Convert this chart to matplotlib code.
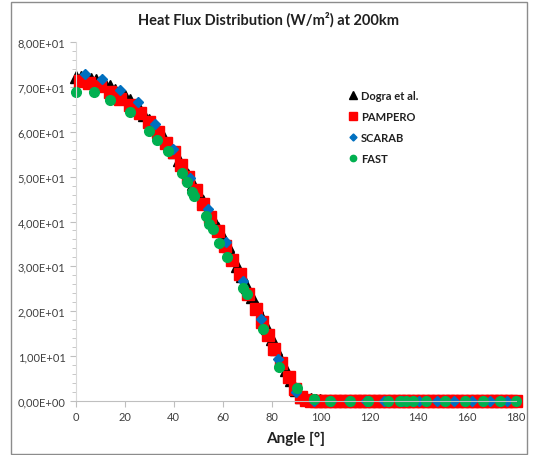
import matplotlib
matplotlib.use("Agg")
import matplotlib.pyplot as plt
from matplotlib.ticker import FuncFormatter, MultipleLocator
from matplotlib.patches import Rectangle

plt.rcParams['font.family'] = ['Lato', 'DejaVu Sans']

# Dogra et al. (black triangles)
dogra_angle = [0, 2, 4, 6, 8, 10, 12, 14, 16, 18, 20, 22, 24, 26, 28, 30,
               32, 34, 36, 38, 40, 42, 44, 46, 48, 50, 52, 54, 56, 58, 60,
               62, 64, 66, 68, 70, 72, 74, 76, 78, 80, 82, 84, 86, 88, 90,
               92, 94, 96, 98, 100]
dogra_flux = [72.2, 72.2, 72.0, 71.8, 71.5, 71.1, 70.6, 70.1, 69.4, 68.7,
              67.9, 67.0, 66.0, 64.9, 63.8, 62.6, 61.3, 59.9, 58.5, 57.0,
              55.4, 53.8, 52.0, 50.3, 48.4, 46.6, 44.6, 42.6, 40.6, 38.5,
              36.6, 34.5, 32.3, 30.1, 27.8, 25.5, 23.2, 20.9, 18.6, 16.2,
              13.9, 11.5, 9.2, 6.9, 4.6, 2.5, 1.0, 0.6, 0.4, 0.3, 0.2]

# PAMPERO (red squares)
pampero_angle = [1.5, 5.5, 10, 14, 18, 22, 26, 30, 33.5, 37, 40, 43, 46, 49,
                 52, 55, 58, 61, 64, 67, 70.5, 73.5, 76, 78.5, 81, 84, 87,
                 89.5, 92, 94, 96, 98, 100, 102, 104, 106, 108, 110, 112,
                 114, 116, 118, 120, 122, 124, 126, 128, 130, 132, 134, 136,
                 138, 140, 142, 144, 146, 148, 150, 152, 154, 156, 158, 160,
                 162, 164, 166, 168, 170, 172, 174, 176, 178, 180]
pampero_flux = [71.2, 70.9, 70.1, 68.8, 67.4, 66.0, 64.2, 62.1, 60.0, 57.5,
                55.4, 52.7, 49.9, 47.0, 43.9, 40.9, 37.8, 34.6, 31.4, 28.2,
                23.8, 20.5, 17.6, 14.7, 11.6, 8.4, 5.3, 2.7, 0.9, 0.3,
                0, 0, 0, 0, 0, 0, 0, 0, 0, 0, 0, 0, 0, 0, 0, 0, 0, 0, 0, 0,
                0, 0, 0, 0, 0, 0, 0, 0, 0, 0, 0, 0, 0, 0, 0, 0, 0, 0, 0, 0,
                0, 0, 0]

# SCARAB (blue diamonds)
scarab_angle = [3.6, 10.8, 18, 25.2, 32.4, 39.6, 46.8, 54, 61.2, 68.4, 75.6,
                82.8, 90, 97.2, 104.4, 111.6, 118.8, 126, 133.2, 140.4,
                147.6, 154.8, 162, 169.2, 176.4]
scarab_flux = [72.9, 71.8, 69.3, 66.6, 61.7, 56.2, 49.8, 42.8, 35.4, 26.8,
               18.3, 9.4, 1.9, 0, 0, 0, 0, 0, 0, 0, 0, 0, 0, 0, 0]

# FAST (green circles)
fast_angle = [0, 7.5, 14, 22.2, 29.7, 33.1, 37.6, 43.2, 45.3, 47.6, 48.4,
              53.2, 54.5, 56.2, 58.6, 61.7, 68.2, 69.8, 76.6, 83.2, 90.5,
              97.5, 104, 112, 119.5, 127.5, 132.5, 135, 138, 143, 151, 159,
              166.5, 173.5, 180]
fast_flux = [68.8, 68.8, 67.1, 64.3, 60.2, 58.2, 55.6, 50.8, 48.7, 46.5,
             45.6, 41.2, 39.4, 38.3, 35.2, 32.0, 25.1, 23.8, 16.0, 7.5, 2.8,
             0.4, 0, 0, 0, 0, 0, 0, 0, 0, 0, 0, 0, 0, 0]

fig = plt.figure(figsize=(5.37, 4.56), dpi=100)
fig.patches.append(Rectangle((11 / 537, 1 / 456), 516 / 537, 452 / 456,
                             transform=fig.transFigure, fill=False,
                             edgecolor='#8c8c8c', linewidth=1.0))
ax = fig.add_axes([76 / 537, 1 - 402 / 456, 440 / 537, 359 / 456])

ax.plot(dogra_angle, dogra_flux, linestyle='none', marker='^', ms=8.5,
        color='black', label='Dogra et al.', clip_on=False)
ax.plot(pampero_angle, pampero_flux, linestyle='none', marker='s', ms=8.5,
        color='#FF0000', label='PAMPERO', clip_on=False)
ax.plot(scarab_angle, scarab_flux, linestyle='none', marker='D', ms=5.5,
        color='#0070C0', label='SCARAB', clip_on=False)
ax.plot(fast_angle, fast_flux, linestyle='none', marker='o', ms=7,
        color='#00B050', label='FAST', clip_on=False)

ax.set_xlim(0, 180)
ax.set_ylim(0, 80)
ax.xaxis.set_major_locator(MultipleLocator(20))
ax.yaxis.set_major_locator(MultipleLocator(10))
ax.yaxis.set_minor_locator(MultipleLocator(2))
ax.yaxis.set_major_formatter(
    FuncFormatter(lambda v, p: "{:.2E}".format(v).replace('.', ',')))

for s in ['top', 'right']:
    ax.spines[s].set_visible(False)
ax.spines['left'].set_color('#d9d9d9')
ax.spines['bottom'].set_color('#bfbfbf')
ax.tick_params(axis='both', which='both', colors='#bfbfbf',
               labelcolor='#404040', labelsize=8)
ax.tick_params(axis='y', which='major', length=4)
ax.tick_params(axis='y', which='minor', length=3)
ax.tick_params(axis='x', length=4)

ax.set_xlabel('Angle [°]', fontsize=11, fontweight='bold', color='#202020',
              labelpad=6)
fig.text(0.5, 1 - 20 / 456, 'Heat Flux Distribution (W/m²) at 200km',
         ha='center', va='center', fontsize=10.5, fontweight='bold',
         color='#202020')

leg = ax.legend(loc='upper left', bbox_to_anchor=(0.6, 0.895), frameon=False,
                handlelength=0.5, handletextpad=0.5, labelspacing=0.9,
                markerscale=0.65, prop={'size': 8, 'weight': 'bold'})
for t in leg.get_texts():
    t.set_color('#202020')

fig.savefig('out.png', dpi=100)
